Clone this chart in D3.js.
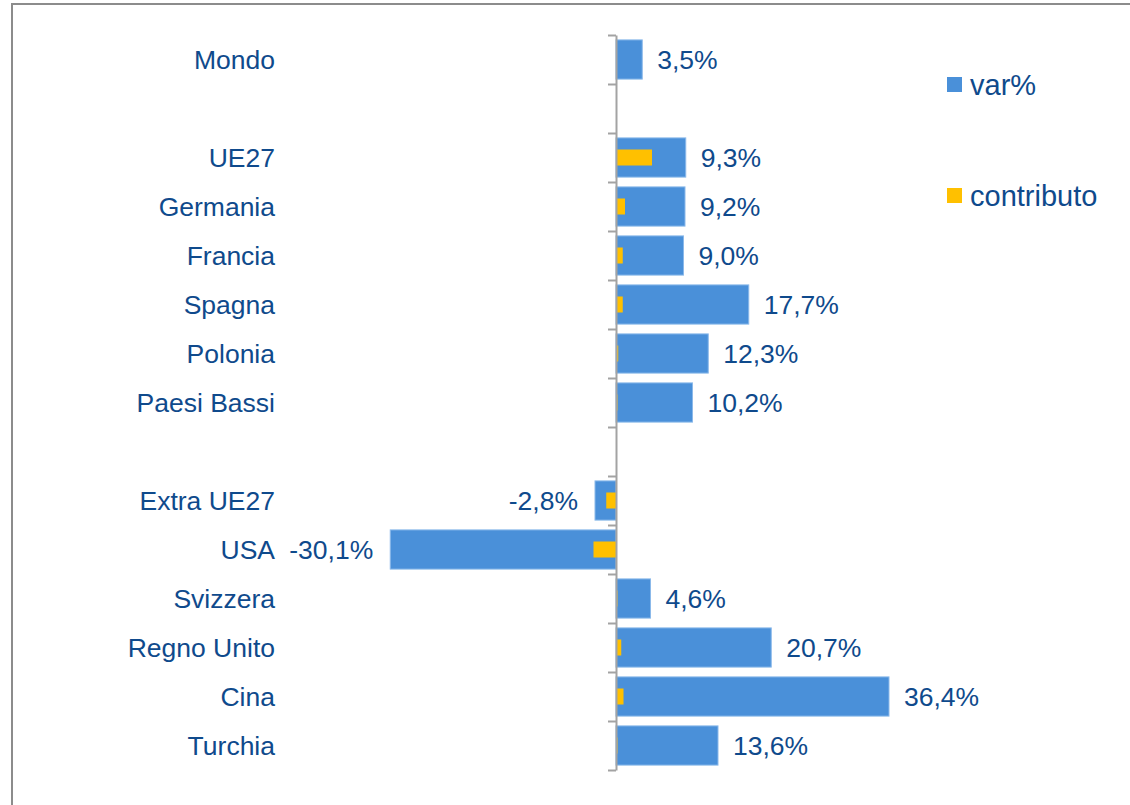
<!DOCTYPE html>
<html>
<head>
<meta charset="utf-8">
<script src="https://cdn.jsdelivr.net/npm/d3@7"></script>
<style>
  html, body { margin: 0; padding: 0; background: #fff; overflow: hidden; }
  svg { display: block; font-family: "Liberation Sans", Arial, sans-serif; }
</style>
</head>
<body>
<div id="chart"></div>
<script>
// Categories (empty strings are blank spacer rows)
const categories = ['Mondo', '', 'UE27', 'Germania', 'Francia', 'Spagna', 'Polonia', 'Paesi Bassi',
  '', 'Extra UE27', 'USA', 'Svizzera', 'Regno Unito', 'Cina', 'Turchia'];
// var% values
const varPct = [3.5, null, 9.3, 9.2, 9.0, 17.7, 12.3, 10.2, null, -2.8, -30.1, 4.6, 20.7, 36.4, 13.6];
// contributo values
const contributo = [null, null, 4.8, 1.2, 0.9, 0.9, 0.3, 0.2, null, -1.3, -3.0, 0.2, 0.7, 1.0, 0.2];
const seriesNames = ['var%', 'contributo'];

const width = 1130;
const height = 805;
const textColor = '#0f4a8c';
const blue = '#4a90d9';
const yellow = '#ffc000';
const axisColor = '#a3a3a3';

const svg = d3.select('#chart')
  .append('svg')
  .attr('width', width)
  .attr('height', height);

// Outer chart border (extends past the window on right and bottom)
svg.append('rect')
  .attr('x', 12)
  .attr('y', 4)
  .attr('width', width + 20)
  .attr('height', height + 20)
  .attr('fill', '#fff')
  .attr('stroke', '#8c8c8c')
  .attr('stroke-width', 2);

// Scales
const x = d3.scaleLinear()
  .domain([-40, 40])
  .range([316, 916]);

const y = d3.scaleBand()
  .domain(d3.range(categories.length))
  .range([35, 770])
  .paddingInner(0.2)
  .paddingOuter(0.1);

// Category labels
svg.append('g')
  .selectAll('text')
  .data(categories)
  .join('text')
  .attr('x', 275)
  .attr('y', (d, i) => y(i) + y.bandwidth() / 2)
  .attr('dy', '0.35em')
  .attr('text-anchor', 'end')
  .style('fill', textColor)
  .style('font-size', '26.5px')
  .text(d => d);

// var% bars
const rows = categories.map((c, i) => ({ i, v: varPct[i], c: contributo[i] }));

svg.append('g')
  .selectAll('rect')
  .data(rows.filter(d => d.v !== null))
  .join('rect')
  .attr('x', d => x(Math.min(0, d.v)))
  .attr('y', d => y(d.i))
  .attr('width', d => Math.abs(x(d.v) - x(0)))
  .attr('height', y.bandwidth())
  .attr('fill', blue)
  .attr('stroke', '#8bb9ea')
  .attr('stroke-width', 1);

// contributo bars
const cH = 16;
svg.append('g')
  .selectAll('rect')
  .data(rows.filter(d => d.c !== null))
  .join('rect')
  .attr('x', d => x(Math.min(0, d.c)))
  .attr('y', d => y(d.i) + y.bandwidth() / 2 - cH / 2)
  .attr('width', d => Math.abs(x(d.c) - x(0)))
  .attr('height', cH)
  .attr('fill', yellow);

// Value labels
const fmt = v => v.toFixed(1).replace('.', ',') + '%';
svg.append('g')
  .selectAll('text')
  .data(rows.filter(d => d.v !== null))
  .join('text')
  .attr('x', d => d.v >= 0 ? x(d.v) + 15 : x(d.v) - 17)
  .attr('y', d => y(d.i) + y.bandwidth() / 2)
  .attr('dy', '0.35em')
  .attr('text-anchor', d => d.v >= 0 ? 'start' : 'end')
  .style('fill', textColor)
  .style('font-size', '26.5px')
  .text(d => fmt(d.v));

// Vertical category axis at zero with ticks between rows
const yTicks = d3.scaleLinear()
  .domain([0, categories.length])
  .range(y.range());

const axis = svg.append('g')
  .attr('transform', `translate(${x(0)},0)`)
  .call(d3.axisLeft(yTicks)
    .tickValues(d3.range(categories.length + 1))
    .tickSize(8)
    .tickSizeOuter(0)
    .tickFormat(''));

axis.selectAll('.domain, .tick line')
  .style('stroke', axisColor)
  .style('stroke-width', 2);

// Legend
const legend = svg.append('g')
  .attr('transform', 'translate(947,77)');

[blue, yellow].forEach((col, i) => {
  const row = legend.append('g')
    .attr('transform', `translate(0,${i * 111})`);
  row.append('rect')
    .attr('width', 15)
    .attr('height', 15)
    .attr('fill', col);
  row.append('text')
    .attr('x', 23)
    .attr('y', 7.5)
    .attr('dy', '0.35em')
    .style('fill', textColor)
    .style('font-size', '29px')
    .text(seriesNames[i]);
});
</script>
</body>
</html>
